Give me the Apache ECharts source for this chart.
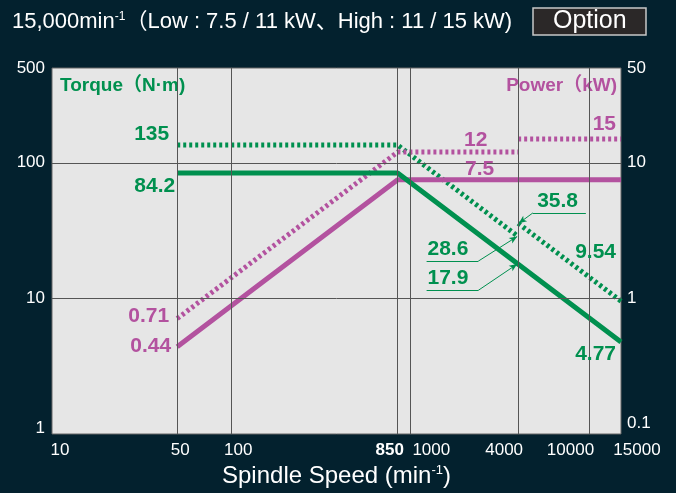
<!DOCTYPE html>
<html>
<head>
<meta charset="utf-8">
<script src="https://cdn.jsdelivr.net/npm/echarts@6/dist/echarts.min.js"></script>
<style>
  html, body { margin: 0; padding: 0; background: #03212e; }
  #chart { width: 676px; height: 493px; }
</style>
</head>
<body>
<div id="chart"></div>
<script>
// 转速 (min-1) / 扭矩 (N·m) / 功率 (kW)
const speedLow = [50, 850, 15000];
const torqueLow = [84.2, 84.2, 4.77];
const powerLow = [0.44, 7.5, 7.5];
const speedHigh = [50, 850, 4000, 4000, 15000];
const torqueHigh = [135, 135, 28.6, 35.8, 9.54];
const powerHigh = [0.71, 12, 12, 15, 15];

// 刻度
const speedTicks = [10, 50, 100, 850, 1000, 4000, 10000, 15000];
const torqueTicks = [1, 10, 100, 500];
const powerTicks = [0.1, 1, 10, 50];
const speedGrid = [50, 100, 850, 1000, 4000, 10000];
const torqueGrid = [10, 100];

const GREEN = "#00904f";
const MAGENTA = "#b3529f";
const FONT = "'Liberation Sans', Arial, 'Noto Sans CJK JP', sans-serif";

// 同一转速出现两次时断开线段
function toPairs(xs, ys) {
  const out = [];
  xs.forEach((x, i) => {
    if (i > 0 && x === xs[i - 1]) out.push([x, "-"]);
    out.push([x, ys[i]]);
  });
  return out;
}

// x 轴标签的左右偏移
const xShift = { 10: 8, 50: 3, 100: 7, 850: -8, 1000: 21, 4000: -14, 10000: -19, 15000: 16 };

const valueLabel = (color) => ({
  show: true,
  color: color,
  fontSize: 21,
  fontWeight: "bold",
  fontFamily: FONT,
});

const leader = (a, b, arrow) => [
  { coord: a, symbol: "none" },
  { coord: b, symbol: arrow ? "arrow" : "none", symbolSize: [5, 8] },
];

const option = {
  backgroundColor: "#03212e",
  animation: false,
  title: [
    {
      left: 12,
      top: 11,
      padding: 0,
      text: "{a|15,000min}{s|-1}{a|（Low : 7.5 / 11 kW、High : 11 / 15 kW)}",
      textStyle: {
        rich: {
          a: { color: "#fff", fontSize: 22, fontWeight: "normal", fontFamily: FONT },
          s: { color: "#fff", fontSize: 12, fontWeight: "normal", fontFamily: FONT, verticalAlign: "top" },
        },
      },
    },
    {
      left: 533,
      top: 8,
      text: "Option",
      padding: [1, 20, 1, 20],
      backgroundColor: "#2b2828",
      borderColor: "#c8c8c8",
      borderWidth: 1.5,
      textStyle: { color: "#fff", fontSize: 25, fontWeight: "normal", fontFamily: FONT },
    },
  ],
  grid: {
    left: 52,
    right: 55,
    top: 68,
    bottom: 57,
    show: true,
    backgroundColor: "#e6e6e6",
    borderColor: "#666",
    borderWidth: 1,
  },
  xAxis: {
    type: "log",
    logBase: 10,
    min: 10,
    max: 15000,
    name: "{a|Spindle Speed (min}{s|-1}{a|)}",
    nameLocation: "middle",
    nameGap: 30,
    nameTextStyle: {
      rich: {
        a: { color: "#fff", fontSize: 24, fontFamily: FONT },
        s: { color: "#fff", fontSize: 13, fontFamily: FONT, verticalAlign: "top" },
      },
    },
    axisLine: { show: false },
    axisTick: { show: false },
    splitLine: { show: false },
    axisLabel: {
      customValues: speedTicks,
      margin: 8,
      formatter: (v) => {
        const s = xShift[v] || 0;
        const key = v === 850 ? "b" : "a";
        return "{" + key + (s >= 0 ? "r" : "l") + Math.abs(s) + "|" + v + "}";
      },
      rich: (() => {
        const r = {};
        Object.keys(xShift).forEach((k) => {
          const s = xShift[k];
          ["a", "b"].forEach((key) => {
            r[key + (s >= 0 ? "r" : "l") + Math.abs(s)] = {
              color: "#fff",
              fontSize: 17,
              fontFamily: FONT,
              fontWeight: key === "b" ? "bold" : "normal",
              padding: s >= 0 ? [0, 0, 0, 2 * s] : [0, -2 * s, 0, 0],
            };
          });
        });
        return r;
      })(),
    },
  },
  yAxis: [
    {
      type: "log",
      logBase: 10,
      min: 1,
      max: 500,
      name: "Torque（N·m)",
      nameLocation: "end",
      nameGap: -18,
      nameTextStyle: {
        color: GREEN,
        fontSize: 19,
        fontWeight: "bold",
        fontFamily: FONT,
        align: "left",
        verticalAlign: "middle",
        padding: [0, 0, 0, 8],
      },
      axisLine: { show: false },
      axisTick: { show: false },
      splitLine: { show: false },
      axisLabel: {
        customValues: torqueTicks,
        color: "#fff",
        fontSize: 17,
        fontFamily: FONT,
        margin: 7,
        formatter: (v) => (v === 1 ? "{d|1}" : "{n|" + v + "}"),
        rich: {
          n: { color: "#fff", fontSize: 17, fontFamily: FONT },
          d: { color: "#fff", fontSize: 17, fontFamily: FONT, padding: [0, 0, 12, 0] },
        },
      },
    },
    {
      type: "log",
      logBase: 10,
      min: 0.1,
      max: 50,
      position: "right",
      name: "Power（kW)",
      nameLocation: "end",
      nameGap: -18,
      nameTextStyle: {
        color: MAGENTA,
        fontSize: 19,
        fontWeight: "bold",
        fontFamily: FONT,
        align: "right",
        verticalAlign: "middle",
        padding: [0, 4, 0, 0],
      },
      axisLine: { show: false },
      axisTick: { show: false },
      splitLine: { show: false },
      axisLabel: {
        customValues: powerTicks,
        margin: 6,
        formatter: (v) => (v === 0.1 ? "{d|0.1}" : "{n|" + v + "}"),
        rich: {
          n: { color: "#fff", fontSize: 17, fontFamily: FONT },
          d: { color: "#fff", fontSize: 17, fontFamily: FONT, padding: [0, 0, 22, 0] },
        },
      },
    },
  ],
  series: [
    {
      // 网格线
      type: "line",
      data: [],
      z: 1,
      silent: true,
      markLine: {
        silent: true,
        symbol: "none",
        label: { show: false },
        lineStyle: { color: "#555", width: 1, type: "solid" },
        data: speedGrid.map((v) => ({ xAxis: v })).concat(torqueGrid.map((v) => ({ yAxis: v }))),
      },
    },
    {
      name: "Torque Low",
      type: "line",
      yAxisIndex: 0,
      z: 4,
      symbol: "none",
      data: toPairs(speedLow, torqueLow),
      lineStyle: { color: GREEN, width: 5 },
      markPoint: {
        symbol: "circle",
        symbolSize: 0,
        label: valueLabel(GREEN),
        data: [
          { coord: [speedLow[0], torqueLow[0]], value: torqueLow[0], label: { position: "left", distance: 0, offset: [-2, 13] } },
          { coord: [speedLow[2], torqueLow[2]], value: torqueLow[2], label: { position: "left", distance: 0, offset: [-5, 12] } },
          { coord: [1622, 14.1], value: 17.9 },
        ],
      },
      markLine: {
        silent: true,
        label: { show: false },
        lineStyle: { color: GREEN, width: 1, type: "solid" },
        data: [
          leader([1233, 11.45], [2393, 11.45], false),
          leader([2393, 11.45], [3950, 17.9], true),
        ],
      },
    },
    {
      name: "Torque High",
      type: "line",
      yAxisIndex: 0,
      z: 3,
      symbol: "none",
      data: toPairs(speedHigh, torqueHigh),
      lineStyle: { color: GREEN, width: 5, type: [3, 3] },
      markPoint: {
        symbol: "circle",
        symbolSize: 0,
        label: valueLabel(GREEN),
        data: [
          { coord: [speedHigh[0], torqueHigh[0]], value: torqueHigh[0], label: { position: "left", distance: 0, offset: [-8, -11] } },
          { coord: [speedHigh[4], torqueHigh[4]], value: torqueHigh[4], label: { position: "left", distance: 0, offset: [-5, -49] } },
          { coord: [6640, 52.4], value: torqueHigh[3] },
          { coord: [1622, 23.2], value: torqueHigh[2] },
        ],
      },
      markLine: {
        silent: true,
        label: { show: false },
        lineStyle: { color: GREEN, width: 1, type: "solid" },
        data: [
          leader([4833, 42.7], [9550, 42.7], false),
          leader([4833, 42.7], [4030, 35.8], true),
          leader([1233, 18.8], [2393, 18.8], false),
          leader([2393, 18.8], [3950, 28.6], true),
        ],
      },
    },
    {
      name: "Power Low",
      type: "line",
      yAxisIndex: 1,
      z: 3,
      symbol: "none",
      data: toPairs(speedLow, powerLow),
      lineStyle: { color: MAGENTA, width: 5 },
      markPoint: {
        symbol: "circle",
        symbolSize: 0,
        label: valueLabel(MAGENTA),
        data: [
          { coord: [speedLow[0], powerLow[0]], value: powerLow[0], label: { position: "left", distance: 0, offset: [-6, -1] } },
          { coord: [2440, powerLow[1]], value: powerLow[1], label: { offset: [0, -11] } },
        ],
      },
    },
    {
      name: "Power High",
      type: "line",
      yAxisIndex: 1,
      z: 3,
      symbol: "none",
      data: toPairs(speedHigh, powerHigh),
      lineStyle: { color: MAGENTA, width: 5, type: [3, 3] },
      markPoint: {
        symbol: "circle",
        symbolSize: 0,
        label: valueLabel(MAGENTA),
        data: [
          { coord: [speedHigh[0], powerHigh[0]], value: powerHigh[0], label: { position: "left", distance: 0, offset: [-8, -2] } },
          { coord: [2320, powerHigh[2]], value: powerHigh[2], label: { offset: [0, -12] } },
          { coord: [speedHigh[4], powerHigh[4]], value: powerHigh[4], label: { position: "left", distance: 0, offset: [-5, -15] } },
        ],
      },
    },
  ],
};

const myChart = echarts.init(document.getElementById("chart"));
myChart.setOption(option);
</script>
</body>
</html>
